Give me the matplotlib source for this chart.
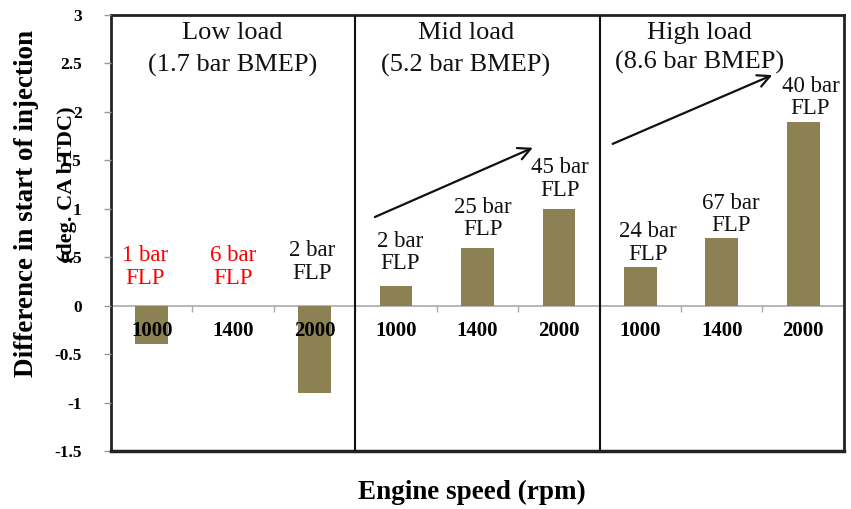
import matplotlib
matplotlib.use("Agg")
import matplotlib.pyplot as plt
import numpy as np

plt.rcParams['font.family'] = ['Liberation Serif', 'DejaVu Serif']

# Engine speed categories in each load panel
speeds = ["1000", "1400", "2000"]
loads = ["Low load\n(1.7 bar BMEP)", "Mid load\n(5.2 bar BMEP)", "High load\n(8.6 bar BMEP)"]

# Difference in start of injection (deg. CA bTDC) per panel
low_vals = [-0.4, 0.0, -0.9]
mid_vals = [0.2, 0.6, 1.0]
high_vals = [0.4, 0.7, 1.9]

# Fuel line pressure labels per bar
low_flp = ["1 bar\nFLP", "6 bar\nFLP", "2 bar\nFLP"]
mid_flp = ["2 bar\nFLP", "25 bar\nFLP", "45 bar\nFLP"]
high_flp = ["24 bar\nFLP", "67 bar\nFLP", "40 bar\nFLP"]
low_flp_colors = ["#ff0000", "#ff0000", "#111111"]

values = low_vals + mid_vals + high_vals
labels = speeds * 3
x = np.arange(len(values))

fig = plt.figure(figsize=(8.51, 5.09), dpi=100)
ax = fig.add_axes([0.1304, 0.1139, 0.8613, 0.8566])
ax.set_axisbelow(False)

bar_color = "#8b8152"
ax.bar(x, values, width=0.4, color=bar_color, edgecolor="none", zorder=2)

ax.set_xlim(-0.5, 8.5)
ax.set_ylim(-1.5, 3.0)
yt = np.arange(-1.5, 3.01, 0.5)
ax.set_yticks(yt)
ax.set_yticklabels([f"{v:g}" for v in yt], fontsize=12.5, fontweight="bold")
ax.tick_params(axis="y", direction="out", length=5, width=1, color="#999999", pad=16)

# Category axis along the zero line
ax.spines["bottom"].set_position(("data", 0))
ax.spines["bottom"].set_color("#aaaaaa")
ax.spines["bottom"].set_linewidth(1.2)
ax.spines["bottom"].set_zorder(1)
ax.set_xticks(x)
ax.set_xticklabels(labels, fontsize=15, fontweight="bold")
ax.tick_params(axis="x", which="major", length=0, pad=11)
ax.set_xticks(np.arange(0.5, 8.0, 1.0), minor=True)
ax.tick_params(axis="x", which="minor", direction="out", length=4, width=1, color="#aaaaaa")

for side in ("left", "top", "right"):
    ax.spines[side].set_color("#222222")
    ax.spines[side].set_linewidth(2)
ax.axhline(-1.5, color="#222222", lw=2.5, clip_on=False, zorder=3)

# Panel dividers
for xd in (2.5, 5.5):
    ax.axvline(xd, color="#111111", lw=1.5, zorder=3)

# Panel titles
title_pos = [(0.99, 2.64), (3.86, 2.64), (6.73, 2.66)]
title_spacing = [1.55, 1.55, 1.4]
for (tx, ty), t, ls in zip(title_pos, loads, title_spacing):
    ax.text(tx, ty, t, ha="center", va="center", fontsize=19, linespacing=ls, color="#111111")

# FLP annotations
flp_pos = [(-0.08, 0.40), (1.0, 0.40), (1.97, 0.45),
           (3.05, 0.55), (4.07, 0.90), (5.01, 1.31),
           (6.09, 0.65), (7.11, 0.94), (8.09, 2.15)]
flp_text = low_flp + mid_flp + high_flp
flp_colors = low_flp_colors + ["#111111"] * 6
for (tx, ty), t, c in zip(flp_pos, flp_text, flp_colors):
    ax.text(tx, ty, t, ha="center", va="center", fontsize=16.5, linespacing=1.1, color=c)

# Trend arrows
arrow_style = dict(arrowstyle="->", color="#111111", lw=1.6, mutation_scale=22, shrinkA=0, shrinkB=0)
ax.annotate("", xy=(4.68, 1.63), xytext=(2.74, 0.915), arrowprops=arrow_style)
ax.annotate("", xy=(7.62, 2.38), xytext=(5.66, 1.67), arrowprops=arrow_style)

# Axis titles
fig.text(0.0306, 0.601, "Difference in start of injection", rotation=90, ha="center", va="center",
         fontsize=19.5, fontweight="bold")
fig.text(0.0787, 0.6385, "(deg. CA bTDC)", rotation=90, ha="center", va="center",
         fontsize=16, fontweight="bold")
fig.text(0.5546, 0.0334, "Engine speed (rpm)", ha="center", va="center",
         fontsize=19.5, fontweight="bold")

fig.savefig("out.png", dpi=100)
